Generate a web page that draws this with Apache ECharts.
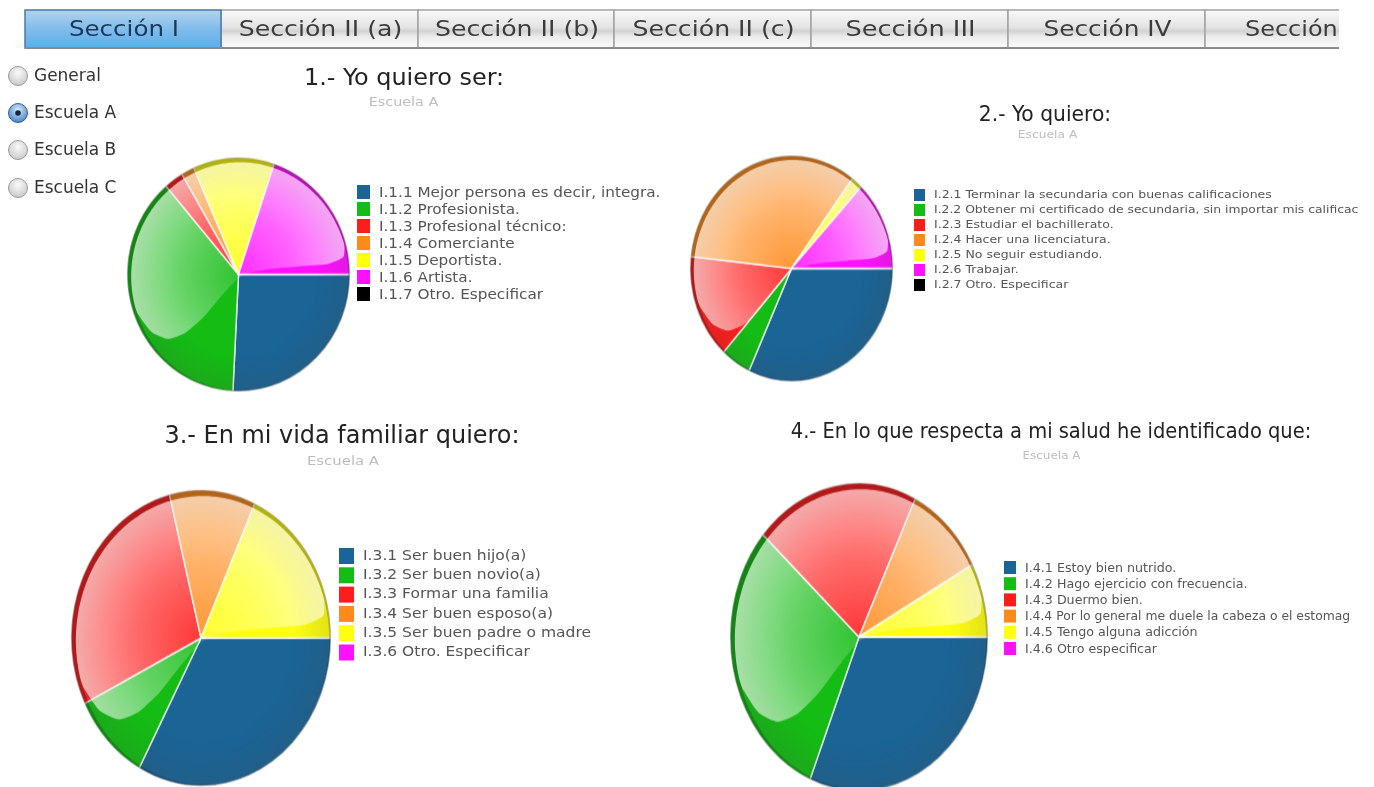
<!DOCTYPE html>
<html>
<head>
<meta charset="utf-8">
<title>Sección I</title>
<style>
  html, body { margin: 0; padding: 0; background: #fff; overflow: hidden; }
  #page { position: relative; width: 1374px; height: 787px; overflow: hidden; filter: blur(0.5px); }
  #main { position: absolute; left: 0; top: 0; width: 1374px; height: 787px; z-index: 2; }
  .pie { position: absolute; z-index: 1; }
</style>
<script src="https://cdn.jsdelivr.net/npm/echarts@6/dist/echarts.min.js"></script>
</head>
<body>
<div id="page"><div id="main"></div></div>
<script>
var tabNames = ['Sección I', 'Sección II (a)', 'Sección II (b)', 'Sección II (c)', 'Sección III', 'Sección IV', 'Sección'];
var radioNames = ['General', 'Escuela A', 'Escuela B', 'Escuela C'];
var subTitle = 'Escuela A';

var palette = ['#1a6496', '#14bc14', '#ff1c1c', '#ff8a1c', '#ffff10', '#ff10ff', '#000000'];

var names1 = ['I.1.1 Mejor persona es decir, integra.', 'I.1.2 Profesionista.', 'I.1.3 Profesional técnico:', 'I.1.4 Comerciante', 'I.1.5 Deportista.', 'I.1.6 Artista.', 'I.1.7 Otro. Especificar'];
var values1 = [25.8, 37.9, 2.8, 1.9, 11.8, 19.8, 0];

// these labels are cut off in the picture, kept as shown there
var names2 = ['I.2.1 Terminar la secundaria con buenas calificaciones', 'I.2.2 Obtener mi certificado de secundaria, sin importar mis calificac', 'I.2.3 Estudiar el bachillerato.', 'I.2.4 Hacer una licenciatura.', 'I.2.5 No seguir estudiando.', 'I.2.6 Trabajar.', 'I.2.7 Otro. Especificar'];
var values2 = [31.9, 4.8, 15, 33.6, 1.8, 12.9, 0];

var names3 = ['I.3.1 Ser buen hijo(a)', 'I.3.2 Ser buen novio(a)', 'I.3.3 Formar una familia', 'I.3.4 Ser buen esposo(a)', 'I.3.5 Ser buen padre o madre', 'I.3.6 Otro. Especificar'];
var values3 = [32.9, 9.8, 28.4, 10.7, 18.2, 0];

var names4 = ['I.4.1 Estoy bien nutrido.', 'I.4.2 Hago ejercicio con frecuencia.', 'I.4.3 Duermo bien.', 'I.4.4 Por lo general me duele la cabeza o el estomag', 'I.4.5 Tengo alguna adicción', 'I.4.6 Otro especificar'];
var values4 = [31.2, 30.4, 20.6, 10, 7.8, 0];

// layout of the four charts, pies are a bit taller than wide in the picture
// the original picture is stretched sideways so the text gets a scaleX too
var charts = [
  { title: '1.- Yo quiero ser:', names: names1, values: values1, cx: 238, cy: 274, rx: 111.5, ry: 117, titleX: 404, titleY: 79, titleSize: 23, titleScale: 1.156, subX: 403.5, subY: 103, subSize: 11.5, subScale: 1.25, legX: 357, legY: 185, legStep: 17, box: 13, legSize: 13.5, legScale: 1.13, textY: 1, rowScale: {} },
  { title: '2.- Yo quiero:', names: names2, values: values2, cx: 791, cy: 268, rx: 101.5, ry: 113, titleX: 1045, titleY: 115.5, titleSize: 20.5, titleScale: 1.1, subX: 1047.5, subY: 135, subSize: 10, subScale: 1.23, legX: 914, legY: 189, legStep: 15, box: 11, legSize: 11, legScale: 1.136, textY: 0.5, rowScale: { 1: 1.123 } },
  { title: '3.- En mi vida familiar quiero:', names: names3, values: values3, cx: 201, cy: 638, rx: 130, ry: 148, titleX: 342, titleY: 437, titleSize: 24.5, titleScale: 1.086, subX: 343, subY: 462, subSize: 12, subScale: 1.24, legX: 339, legY: 548, legStep: 19.3, box: 15, legSize: 14.5, legScale: 1.07, textY: 0, rowScale: {} },
  { title: '4.- En lo que respecta a mi salud he identificado que:', names: names4, values: values4, cx: 859, cy: 637, rx: 129, ry: 154, titleX: 1051, titleY: 433, titleSize: 21, titleScale: 1.03, subX: 1051.5, subY: 456, subSize: 11, subScale: 1.09, legX: 1004, legY: 561, legStep: 16.2, box: 12, legSize: 12, legScale: 1.054, textY: 1, rowScale: { 3: 1.029 } }
];

var fontName = '"DejaVu Sans", sans-serif';
var condensedFont = '"DejaVu Sans Condensed", "DejaVu Sans", sans-serif';

function circlePoints(c, r, from, to, steps) {
  var pts = [];
  for (var i = 0; i <= steps; i++) {
    var a = (from + (to - from) * i / steps) * Math.PI / 180;
    pts.push([c.x + r * Math.cos(a), c.y + r * Math.sin(a)]);
  }
  return pts;
}

// shine over the upper left part of a pie, same curve on all four
var glossEdge = [[0.94, -0.15], [0.8, -0.09], [0.55, -0.07], [0.3, -0.05], [0.12, -0.02], [0, 0.03], [-0.14, 0.17], [-0.32, 0.37], [-0.48, 0.5], [-0.63, 0.55], [-0.78, 0.49], [-0.9, 0.34]];

function pieDecor(c, r) {
  var inner = { x: c + r * 0.012, y: c + r * 0.015 };
  var gloss = circlePoints(inner, r * 0.975, 164, 344, 50);
  glossEdge.forEach(function (p) {
    gloss.push([c + p[0] * r, c + p[1] * r]);
  });
  var ring = circlePoints({ x: c, y: c }, r, 0, 360, 90)
    .concat(circlePoints(inner, r * 0.975, 360, 0, 90));
  return [
    {
      // darker towards the rim, under the shine
      type: 'circle',
      silent: true,
      z: 9,
      shape: { cx: c, cy: c, r: r },
      style: {
        fill: {
          type: 'radial', x: 0.5, y: 0.5, r: 0.5,
          colorStops: [
            { offset: 0.7, color: 'rgba(70,70,70,0)' },
            { offset: 1, color: 'rgba(70,70,70,0.16)' }
          ]
        }
      }
    },
    {
      type: 'polygon',
      silent: true,
      z: 10,
      shape: { points: gloss, smooth: 0.2 },
      style: {
        fill: {
          type: 'radial', x: c, y: c, r: r, global: true,
          colorStops: [
            { offset: 0, color: 'rgba(255,255,255,0.12)' },
            { offset: 0.5, color: 'rgba(255,255,255,0.34)' },
            { offset: 1, color: 'rgba(255,255,255,0.64)' }
          ]
        }
      }
    },
    {
      type: 'polygon',
      silent: true,
      z: 11,
      shape: { points: ring },
      style: { fill: 'rgba(0,0,0,0.22)' }
    }
  ];
}

var page = document.getElementById('page');

charts.forEach(function (ch) {
  var side = Math.ceil(ch.rx * 2 + 10);
  var div = document.createElement('div');
  div.className = 'pie';
  div.style.width = side + 'px';
  div.style.height = side + 'px';
  div.style.left = (ch.cx - side / 2) + 'px';
  div.style.top = (ch.cy - side / 2) + 'px';
  div.style.transform = 'scaleY(' + (ch.ry / ch.rx) + ')';
  page.appendChild(div);

  var pie = echarts.init(div, null, { renderer: 'canvas' });
  pie.setOption({
    animation: false,
    color: palette,
    graphic: { elements: pieDecor(side / 2, ch.rx) },
    series: [{
      type: 'pie',
      radius: [0, ch.rx],
      center: [side / 2, side / 2],
      startAngle: 0,
      clockwise: true,
      silent: true,
      label: { show: false },
      labelLine: { show: false },
      itemStyle: { borderColor: 'rgba(255,255,255,0.8)', borderWidth: 1.5 },
      data: ch.values.map(function (v, i) {
        return { name: ch.names[i], value: v };
      })
    }]
  });
});

var tabEdges = [25, 221, 418, 614, 811, 1008, 1205, 1340];
var tabScale = [1.17, 1.2, 1.2, 1.2, 1.22, 1.18, 1.14];

function buildTabs() {
  var els = [];
  tabNames.forEach(function (name, i) {
    var active = i === 0;
    var x = tabEdges[i];
    var w = tabEdges[i + 1] - x;
    els.push({
      type: 'rect',
      z: i === 0 ? 5 : 4,
      shape: { x: x, y: 10, width: w, height: 38 },
      style: {
        fill: {
          type: 'linear', x: 0, y: 0, x2: 0, y2: 1,
          colorStops: active ? [
            { offset: 0, color: '#b4d4ee' },
            { offset: 0.5, color: '#80bcea' },
            { offset: 1, color: '#58aeee' }
          ] : [
            { offset: 0, color: '#fafafa' },
            { offset: 0.45, color: '#e4e4e4' },
            { offset: 0.55, color: '#d2d2d2' },
            { offset: 0.7, color: '#ececec' },
            { offset: 1, color: '#fcfcfc' }
          ]
        },
        stroke: active ? '#4f78a4' : '#a2a2a2',
        lineWidth: 1.5
      }
    });
    els.push({
      type: 'text',
      z: 6,
      x: i === 6 ? 1245 : x + w / 2 + 1,
      y: 30.5,
      scaleX: tabScale[i],
      style: {
        text: name,
        font: '21px ' + fontName,
        fill: active ? '#1a3858' : '#3c3c3c',
        align: i === 6 ? 'left' : 'center',
        verticalAlign: 'middle'
      }
    });
  });
  // bottom line of the whole bar
  els.push({
    type: 'line',
    z: 7,
    shape: { x1: 25, y1: 48, x2: 1340, y2: 48 },
    style: { stroke: '#8c8c8c', lineWidth: 2 }
  });
  // the last tab is cut off at the right
  els.push({
    type: 'rect',
    z: 8,
    shape: { x: 1339, y: 7, width: 8, height: 44 },
    style: { fill: '#fff' }
  });
  return els;
}

var radioY = [76, 113, 150, 188];

function buildRadios() {
  var els = [];
  radioNames.forEach(function (name, i) {
    var selected = i === 1;
    els.push({
      type: 'circle',
      z: 5,
      shape: { cx: 18, cy: radioY[i], r: 9.5 },
      style: {
        fill: {
          type: 'radial', x: 0.5, y: 0.35, r: 0.7,
          colorStops: selected ? [
            { offset: 0, color: '#dcecf8' },
            { offset: 1, color: '#2f78c4' }
          ] : [
            { offset: 0, color: '#fafafa' },
            { offset: 1, color: '#c4c4c4' }
          ]
        },
        stroke: selected ? '#3c5f8c' : '#9a9a9a',
        lineWidth: 1
      }
    });
    if (selected) {
      els.push({
        type: 'circle',
        z: 6,
        shape: { cx: 18, cy: radioY[i], r: 2.8 },
        style: { fill: '#12263e' }
      });
    }
    els.push({
      type: 'text',
      z: 6,
      x: 34,
      y: radioY[i] + 0.5,
      scaleX: 1.11,
      style: {
        text: name,
        font: '17px ' + condensedFont,
        fill: '#333',
        verticalAlign: 'middle'
      }
    });
  });
  return els;
}

function buildLegend(ch) {
  var els = [];
  ch.names.forEach(function (name, i) {
    var y = ch.legY + i * ch.legStep;
    els.push({
      type: 'rect',
      z: 5,
      shape: { x: ch.legX, y: y, width: ch.box, height: ch.box + 1 },
      style: { fill: palette[i] }
    });
    els.push({
      type: 'text',
      z: 5,
      x: ch.legX + ch.box + 9,
      y: y + ch.box / 2 + 0.5 + ch.textY,
      scaleX: ch.rowScale[i] || ch.legScale,
      style: {
        text: name,
        font: ch.legSize + 'px ' + fontName,
        fill: '#555',
        verticalAlign: 'middle'
      }
    });
  });
  return els;
}

function buildTitles(ch) {
  return [
    {
      type: 'text',
      z: 5,
      x: ch.titleX,
      y: ch.titleY,
      scaleX: ch.titleScale,
      style: {
        text: ch.title,
        font: ch.titleSize + 'px ' + condensedFont,
        fill: '#222',
        align: 'center',
        verticalAlign: 'middle'
      }
    },
    {
      type: 'text',
      z: 5,
      x: ch.subX,
      y: ch.subY,
      scaleX: ch.subScale,
      style: {
        text: subTitle,
        font: ch.subSize + 'px ' + fontName,
        fill: '#bdbdbd',
        align: 'center',
        verticalAlign: 'middle'
      }
    }
  ];
}

var graphicEls = buildTabs().concat(buildRadios());
charts.forEach(function (ch) {
  graphicEls = graphicEls.concat(buildTitles(ch), buildLegend(ch));
});

var mainChart = echarts.init(document.getElementById('main'));
mainChart.setOption({
  animation: false,
  backgroundColor: 'transparent',
  graphic: { elements: graphicEls }
});
</script>
</body>
</html>
